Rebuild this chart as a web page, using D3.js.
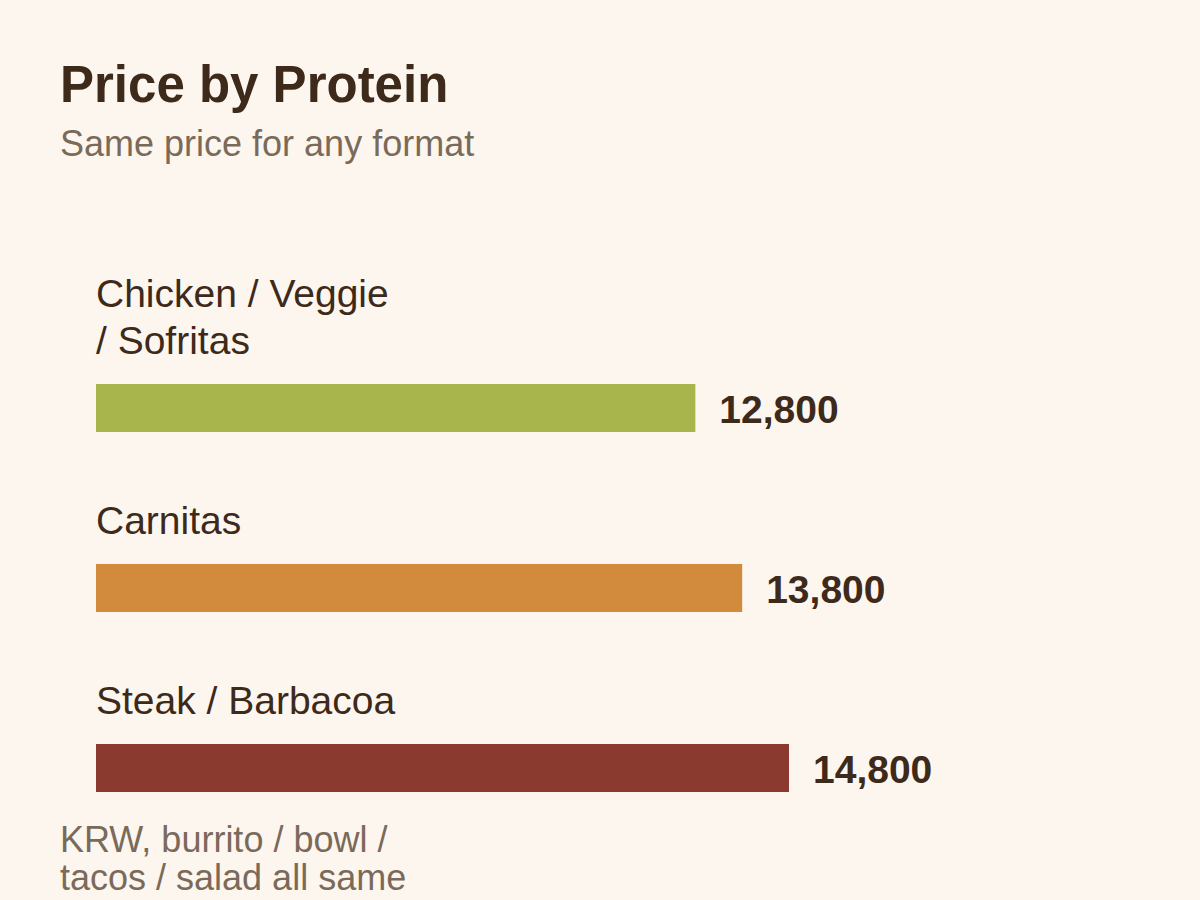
<!DOCTYPE html>
<html>
<head>
<meta charset="utf-8">
<script src="https://cdn.jsdelivr.net/npm/d3@7"></script>
<style>
  html, body { margin: 0; padding: 0; background: #fdf6ef; }
  svg { display: block; font-family: "Liberation Sans", Arial, sans-serif; }
</style>
</head>
<body>
<div id="chart"></div>
<script>
// proteins and their price (KRW)
var proteins = ["Chicken / Veggie / Sofritas", "Carnitas", "Steak / Barbacoa"];
var prices = [12800, 13800, 14800];
var barColors = ["#a8b44c", "#d28a3c", "#8b3a2f"];

var titleText = "Price by Protein";
var subtitleText = "Same price for any format";
var noteText = "KRW, burrito / bowl / tacos / salad all same";

var width = 1200, height = 900;
var margin = {left: 96, top: 384};

var svg = d3.select("#chart").append("svg")
    .attr("width", width)
    .attr("height", height);

svg.append("rect")
    .attr("width", width)
    .attr("height", height)
    .attr("fill", "#fdf6ef");

// split a string into lines that fit maxWidth (measured on the text node)
function wrapLines(textSel, str, maxWidth) {
    var words = str.split(" ");
    var lines = [];
    var line = [];
    var probe = textSel.append("tspan");
    words.forEach(function(w) {
        line.push(w);
        probe.text(line.join(" "));
        if (probe.node().getComputedTextLength() > maxWidth && line.length > 1) {
            line.pop();
            lines.push(line.join(" "));
            line = [w];
        }
    });
    lines.push(line.join(" "));
    probe.remove();
    return lines;
}

function drawLines(textSel, lines, x, y, lineHeight) {
    textSel.selectAll("tspan").data(lines).enter().append("tspan")
        .attr("x", x)
        .attr("y", function(d, i) { return y + i * lineHeight; })
        .text(function(d) { return d; });
}

// title block
svg.append("text")
    .attr("x", 60)
    .attr("y", 102)
    .attr("fill", "#3d2a1a")
    .attr("font-size", 51)
    .attr("font-weight", "bold")
    .text(titleText);

svg.append("text")
    .attr("x", 60)
    .attr("y", 156)
    .attr("fill", "#7a6a5a")
    .attr("font-size", 36)
    .text(subtitleText);

// scales
var x = d3.scaleLinear()
    .domain([0, d3.max(prices)])
    .range([0, 693]);

var y = d3.scaleBand()
    .domain(proteins)
    .range([margin.top, margin.top + 408])
    .paddingInner(132 / 180)
    .paddingOuter(0);

var rows = svg.append("g")
    .attr("class", "bars")
    .selectAll("g")
    .data(proteins)
    .enter().append("g");

rows.append("rect")
    .attr("x", margin.left)
    .attr("y", function(d) { return y(d); })
    .attr("width", function(d, i) { return x(prices[i]); })
    .attr("height", y.bandwidth())
    .attr("fill", function(d, i) { return barColors[i]; });

rows.append("text")
    .attr("x", function(d, i) { return margin.left + x(prices[i]) + 24; })
    .attr("y", function(d) { return y(d) + y.bandwidth() / 2 + 15; })
    .attr("fill", "#3d2a1a")
    .attr("font-size", 39)
    .attr("font-weight", "bold")
    .text(function(d, i) { return d3.format(",")(prices[i]); });

// category labels above each bar, last line 30px over the bar
rows.each(function(d) {
    var t = d3.select(this).append("text")
        .attr("fill", "#3d2a1a")
        .attr("font-size", 39);
    var lines = wrapLines(t, d, 306);
    var lh = 47;
    var lastY = y(d) - 30;
    drawLines(t, lines, margin.left, lastY - (lines.length - 1) * lh, lh);
});

// footnote
var note = svg.append("text")
    .attr("fill", "#7a6a5a")
    .attr("font-size", 36);
var noteLines = wrapLines(note, noteText, 370);
drawLines(note, noteLines, 60, 852, 37.5);
</script>
</body>
</html>
